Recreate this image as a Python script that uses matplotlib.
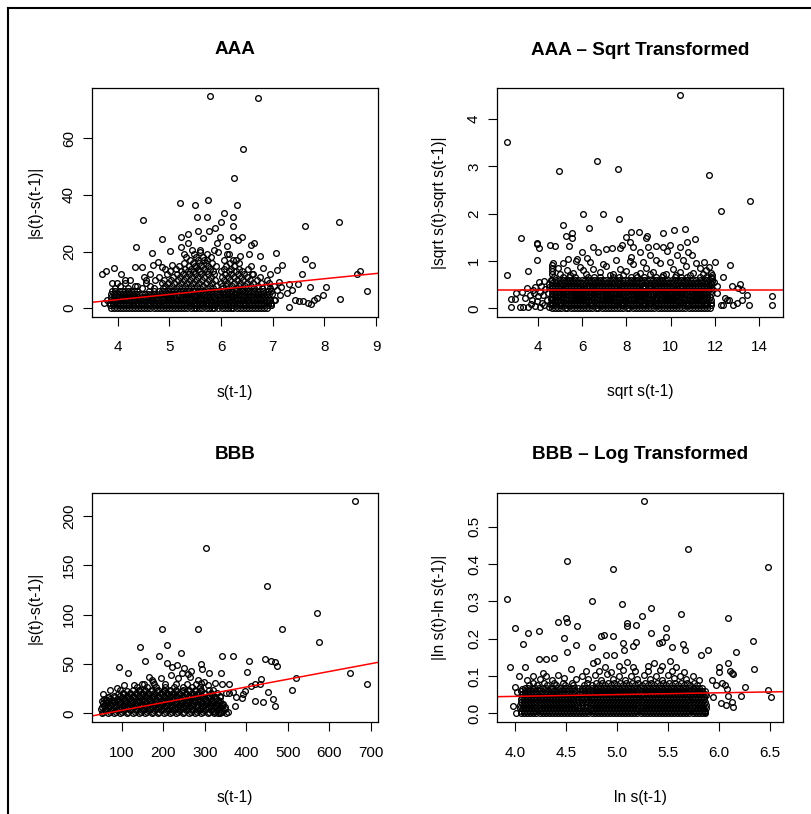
import matplotlib
matplotlib.use("Agg")
import matplotlib.pyplot as plt
from matplotlib.lines import Line2D

plt.rcParams['font.family'] = ['Liberation Sans', 'DejaVu Sans']

# ---------------- DATA ----------------
titles = ["AAA", "AAA \u2013 Sqrt Transformed", "BBB", "BBB \u2013 Log Transformed"]
xlabels = ["s(t-1)", "sqrt s(t-1)", "s(t-1)", "ln s(t-1)"]
ylabels = ["|s(t)-s(t-1)|", "|sqrt s(t)-sqrt s(t-1)|", "|s(t)-s(t-1)|", "|ln s(t)-ln s(t-1)|"]

# regression lines (intercept, slope)
aaa_fit = (-4.38, 1.85)
sqrt_fit = (0.39, 0.0)
bbb_fit = (-4.88, 0.0788)
log_fit = (0.0263, 0.00477)

# ---- AAA: dense core (rows of integer |changes|) ----
aaa_levels = [0, 1, 2, 3, 4, 5, 6, 7, 8, 9, 10, 11, 12, 13, 14, 15, 16, 17, 18, 19, 20]
aaa_rows = [
    [3.87, 3.99, 4.11, 4.22, 4.34, 4.46, 4.57, 4.70, 4.82, 4.93, 5.05, 5.17, 5.29, 5.41, 5.52, 5.64, 5.76, 5.87, 6.01, 6.13, 6.24, 6.36, 6.48, 6.59, 6.71, 6.83],
    [3.92, 4.04, 4.16, 4.28, 4.40, 4.51, 4.63, 4.76, 4.88, 4.99, 5.11, 5.23, 5.35, 5.47, 5.58, 5.70, 5.82, 5.96, 6.07, 6.19, 6.30, 6.42, 6.54, 6.65, 6.77, 6.90],
    [3.86, 3.98, 4.10, 4.23, 4.35, 4.45, 4.58, 4.69, 4.81, 4.94, 5.06, 5.16, 5.28, 5.40, 5.53, 5.65, 5.75, 5.88, 6.00, 6.12, 6.25, 6.37, 6.47, 6.60, 6.72, 6.84, 6.96],
    [3.93, 4.05, 4.17, 4.27, 4.39, 4.52, 4.64, 4.75, 4.87, 5.00, 5.12, 5.22, 5.34, 5.46, 5.59, 5.71, 5.81, 5.95, 6.06, 6.18, 6.31, 6.43, 6.53, 6.66, 6.78, 6.89, 7.02],
    [3.88, 4.00, 4.12, 4.24, 4.33, 4.47, 4.59, 4.71, 4.83, 4.95, 5.04, 5.18, 5.30, 5.42, 5.51, 5.63, 5.77, 5.89, 6.02, 6.14, 6.23, 6.35, 6.49, 6.61, 6.73, 6.85],
    [3.94, 4.06, 4.18, 4.29, 4.41, 4.53, 4.65, 4.77, 4.89, 5.01, 5.10, 5.24, 5.36, 5.48, 5.57, 5.69, 5.83, 5.97, 6.08, 6.20, 6.29, 6.41, 6.55, 6.67, 6.79, 6.92],
    [3.89, 4.02, 4.14, 4.26, 4.38, 4.60, 4.80, 4.92, 5.03, 5.15, 5.27, 5.39, 5.50, 5.62, 5.74, 5.86, 5.99, 6.11, 6.22, 6.34, 6.46, 6.58, 6.70, 6.82, 6.97],
    [3.95, 4.20, 4.48, 4.70, 4.88, 5.00, 5.12, 5.24, 5.36, 5.48, 5.60, 5.72, 5.84, 6.04, 6.16, 6.28, 6.40, 6.52, 6.64, 6.80, 6.95],
    [4.05, 4.33, 4.62, 4.92, 5.06, 5.18, 5.30, 5.42, 5.54, 5.66, 5.78, 5.90, 6.02, 6.10, 6.22, 6.34, 6.46, 6.58, 6.72, 6.88],
    [3.90, 4.15, 4.85, 4.98, 5.10, 5.22, 5.34, 5.46, 5.58, 5.70, 5.82, 6.00, 6.12, 6.25, 6.37, 6.50, 6.62, 6.78, 6.93],
    [4.25, 4.55, 4.90, 5.04, 5.16, 5.28, 5.40, 5.52, 5.64, 5.76, 5.88, 6.06, 6.18, 6.30, 6.42, 6.56, 6.70],
    [4.80, 5.08, 5.20, 5.32, 5.44, 5.56, 5.68, 5.80, 6.02, 6.14, 6.26, 6.38, 6.50],
    [4.95, 5.14, 5.26, 5.38, 5.50, 5.62, 5.74, 5.86, 6.08, 6.20, 6.32, 6.45, 6.60],
    [5.02, 5.22, 5.36, 5.48, 5.60, 5.72, 5.84, 6.00, 6.16, 6.28, 6.40],
    [4.92, 5.12, 5.30, 5.42, 5.55, 5.67, 5.79, 6.05, 6.20, 6.35, 6.52],
    [5.18, 5.38, 5.50, 5.62, 5.75, 5.90, 6.10, 6.26],
    [5.28, 5.45, 5.58, 5.70, 5.82, 6.18, 6.35],
    [5.40, 5.55, 5.68, 6.05, 6.28],
    [5.33, 5.52, 5.65, 5.80],
    [5.47, 5.72, 6.12, 6.55],
    [5.60, 5.95],
]
aaa_fill_levels = [0, 1, 2, 3, 4, 5, 6]
aaa_fill_rows = [
    [3.93, 4.05, 4.16, 4.28, 4.40, 4.52, 4.63, 4.76, 4.88, 4.99, 5.11, 5.23, 5.35, 5.47, 5.58, 5.70, 5.82, 5.94, 6.07, 6.19, 6.30, 6.42, 6.54, 6.65, 6.77, 6.89],
    [3.86, 3.98, 4.10, 4.22, 4.34, 4.45, 4.57, 4.70, 4.82, 4.93, 5.05, 5.17, 5.29, 5.41, 5.52, 5.64, 5.76, 5.89, 6.01, 6.13, 6.24, 6.36, 6.48, 6.59, 6.71, 6.84, 6.96],
    [3.92, 4.04, 4.16, 4.29, 4.40, 4.51, 4.63, 4.75, 4.88, 5.00, 5.11, 5.22, 5.34, 5.47, 5.59, 5.70, 5.81, 5.94, 6.06, 6.18, 6.31, 6.42, 6.54, 6.66, 6.78, 6.90],
    [3.87, 3.99, 4.11, 4.22, 4.33, 4.46, 4.58, 4.69, 4.81, 4.94, 5.06, 5.17, 5.28, 5.40, 5.53, 5.65, 5.76, 5.88, 6.00, 6.12, 6.25, 6.37, 6.48, 6.60, 6.72, 6.84, 6.95],
    [3.94, 4.06, 4.18, 4.29, 4.40, 4.53, 4.65, 4.77, 4.89, 5.00, 5.11, 5.24, 5.36, 5.47, 5.57, 5.70, 5.83, 5.96, 6.08, 6.19, 6.29, 6.42, 6.55, 6.67, 6.79, 6.91],
    [3.88, 4.00, 4.12, 4.24, 4.35, 4.47, 4.59, 4.71, 4.83, 4.95, 5.05, 5.17, 5.30, 5.42, 5.52, 5.63, 5.76, 5.90, 6.03, 6.14, 6.25, 6.35, 6.48, 6.61, 6.73, 6.86],
    [3.95, 4.08, 4.20, 4.32, 4.70, 4.86, 4.98, 5.09, 5.21, 5.33, 5.45, 5.56, 5.68, 5.80, 5.93, 6.05, 6.17, 6.28, 6.40, 6.52, 6.64, 6.76, 6.90],
]
aaa_out_x = [5.79, 6.71, 6.42, 6.25, 5.74, 5.21, 5.49, 6.31, 6.05, 6.24, 5.53, 5.73, 4.49, 8.28, 6.00,
             6.23, 7.63, 5.89, 5.77, 5.56, 5.37, 6.40, 6.23, 5.98, 5.22, 4.86, 6.32, 5.66, 5.37, 6.63,
             5.92, 4.35, 5.22, 6.11, 6.57, 5.02, 5.43, 5.60, 5.86, 4.67, 7.07, 6.76, 6.36, 5.29, 6.16,
             7.63, 6.24, 5.73, 4.79, 7.75, 7.18, 4.68, 5.52, 5.06, 4.34, 4.47, 3.94, 3.78, 8.69, 6.82,
             7.09, 3.69, 8.63, 7.56, 4.07, 7.72, 8.03, 7.49, 7.32, 7.38, 8.82, 7.14, 7.97, 7.27, 7.43,
             7.50, 7.59, 7.69, 7.79, 7.85, 7.32, 8.30, 7.73, 6.62, 6.75, 6.88, 6.95, 6.58, 7.02, 7.08,
             7.12, 7.16, 6.98, 7.04, 6.96, 4.55, 4.72, 4.38, 4.15, 3.98, 4.62, 4.85, 4.52, 3.80, 3.74]
aaa_out_y = [75.1, 74.2, 56.4, 46.1, 38.1, 37.3, 36.4, 36.4, 33.5, 32.1, 32.1, 32.1, 31.2, 30.4, 30.4,
             29.2, 29.2, 28.2, 27.4, 27.4, 26.2, 25.3, 25.3, 25.3, 25.3, 24.5, 24.1, 24.7, 23.2, 23.2,
             23.2, 21.5, 21.5, 22.0, 22.4, 20.1, 20.4, 20.4, 20.6, 19.4, 19.4, 18.5, 18.5, 19.2, 19.2,
             17.3, 17.1, 17.1, 16.5, 15.3, 15.3, 15.3, 14.7, 15.3, 14.4, 14.4, 14.1, 13.3, 13.3, 14.1,
             13.5, 12.2, 12.2, 12.2, 12.2, 7.6, 7.5, 8.4, 8.6, 6.5, 6.2, 4.6, 4.5, 5.3, 2.9,
             2.6, 2.4, 2.0, 2.9, 3.5, 0.4, 3.3, 1.4, 12.0, 11.0, 10.0, 12.0, 15.0, 8.0, 6.5,
             9.2, 7.5, 5.0, 3.0, 1.0, 9.0, 10.0, 8.0, 10.0, 9.0, 12.0, 14.5, 11.0, 3.0, 2.0]

# ---- AAA sqrt ----
sqrt_levels = [0.00, 0.06, 0.12, 0.18, 0.24, 0.30, 0.36, 0.42, 0.48, 0.54, 0.60, 0.66]
sqrt_rows = [
    [4.65, 4.93, 5.21, 5.49, 5.77, 6.05, 6.33, 6.61, 6.89, 7.17, 7.45, 7.73, 8.01, 8.29, 8.57, 8.85, 9.13, 9.41, 9.69, 9.97, 10.25, 10.53, 10.81, 11.09, 11.37, 11.65],
    [4.79, 5.07, 5.35, 5.63, 5.91, 6.19, 6.47, 6.75, 7.03, 7.31, 7.59, 7.87, 8.15, 8.43, 8.71, 8.99, 9.27, 9.55, 9.83, 10.11, 10.39, 10.67, 10.95, 11.23, 11.51, 11.80],
    [4.66, 4.95, 5.22, 5.50, 5.78, 6.04, 6.34, 6.62, 6.90, 7.16, 7.46, 7.74, 8.02, 8.28, 8.58, 8.86, 9.12, 9.42, 9.70, 9.96, 10.26, 10.54, 10.80, 11.10, 11.38, 11.66],
    [4.78, 5.06, 5.36, 5.62, 5.92, 6.20, 6.46, 6.76, 7.04, 7.30, 7.60, 7.88, 8.14, 8.44, 8.70, 9.00, 9.28, 9.54, 9.84, 10.12, 10.38, 10.68, 10.96, 11.22, 11.52, 11.82],
    [4.64, 4.92, 5.20, 5.48, 5.76, 6.06, 6.32, 6.60, 6.88, 7.18, 7.44, 7.72, 8.00, 8.30, 8.56, 8.84, 9.14, 9.40, 9.68, 9.98, 10.24, 10.52, 10.82, 11.08, 11.36, 11.64],
    [4.80, 5.08, 5.34, 5.64, 5.90, 6.18, 6.48, 6.74, 7.02, 7.32, 7.58, 7.86, 8.16, 8.42, 8.72, 8.98, 9.26, 9.56, 9.82, 10.10, 10.40, 10.66, 10.94, 11.24, 11.50, 11.81],
    [4.65, 4.94, 5.21, 5.49, 5.79, 6.05, 6.33, 6.63, 6.89, 7.17, 7.47, 7.73, 8.01, 8.31, 8.57, 8.85, 9.15, 9.41, 9.69, 9.99, 10.25, 10.53, 10.83, 11.09, 11.37, 11.67],
    [4.79, 5.07, 5.37, 5.63, 5.91, 6.21, 6.47, 6.75, 7.05, 7.31, 7.59, 7.89, 8.15, 8.43, 8.73, 8.99, 9.27, 9.57, 9.83, 10.11, 10.41, 10.67, 10.95, 11.25, 11.51, 11.83],
    [4.66, 4.93, 5.23, 5.50, 5.77, 6.07, 6.34, 6.61, 6.91, 7.18, 7.45, 7.75, 8.02, 8.29, 8.59, 8.86, 9.13, 9.43, 9.70, 9.97, 10.27, 10.54, 10.81, 11.11, 11.38, 11.65],
    [4.80, 5.09, 5.35, 5.65, 5.92, 6.19, 6.49, 6.76, 7.03, 7.33, 7.60, 7.87, 8.17, 8.44, 8.71, 9.01, 9.28, 9.55, 9.85, 10.12, 10.39, 10.69, 10.96, 11.23, 11.53, 11.80],
    [4.64, 5.00, 5.28, 5.56, 5.84, 6.12, 6.40, 6.68, 6.96, 7.24, 7.52, 7.80, 8.08, 8.36, 8.64, 8.92, 9.20, 9.48, 9.76, 10.04, 10.32, 10.60, 10.88, 11.16, 11.44, 11.72],
    [4.72, 5.14, 5.42, 5.70, 6.26, 6.54, 6.82, 7.38, 7.66, 8.22, 8.50, 8.78, 9.34, 9.62, 10.18, 10.46, 10.74, 11.30, 11.58, 11.84],
]
sqrt_fill_levels = [0.00, 0.06, 0.12, 0.18, 0.24, 0.30, 0.36, 0.42, 0.48, 0.54, 0.60]
sqrt_fill_rows = [
    [4.78, 5.06, 5.34, 5.62, 5.90, 6.18, 6.46, 6.74, 7.02, 7.30, 7.58, 7.86, 8.14, 8.42, 8.70, 8.98, 9.26, 9.54, 9.82, 10.10, 10.38, 10.66, 10.94, 11.22, 11.50, 11.78],
    [4.66, 4.94, 5.22, 5.50, 5.78, 6.06, 6.34, 6.62, 6.90, 7.18, 7.46, 7.74, 8.02, 8.30, 8.58, 8.86, 9.14, 9.42, 9.70, 9.98, 10.26, 10.54, 10.82, 11.10, 11.38, 11.66],
    [4.81, 5.09, 5.37, 5.65, 5.93, 6.19, 6.49, 6.77, 7.05, 7.31, 7.61, 7.89, 8.17, 8.43, 8.73, 9.01, 9.27, 9.57, 9.85, 10.11, 10.41, 10.69, 10.95, 11.25, 11.53, 11.80],
    [4.64, 4.92, 5.22, 5.48, 5.78, 6.06, 6.32, 6.62, 6.90, 7.16, 7.46, 7.74, 8.00, 8.30, 8.56, 8.86, 9.14, 9.40, 9.70, 9.98, 10.24, 10.54, 10.82, 11.08, 11.38, 11.67],
    [4.78, 5.06, 5.34, 5.62, 5.90, 6.20, 6.46, 6.74, 7.02, 7.32, 7.58, 7.86, 8.14, 8.44, 8.70, 8.98, 9.28, 9.54, 9.82, 10.12, 10.38, 10.66, 10.96, 11.22, 11.50, 11.79],
    [4.66, 4.94, 5.20, 5.50, 5.76, 6.04, 6.34, 6.60, 6.88, 7.18, 7.44, 7.72, 8.02, 8.28, 8.58, 8.84, 9.12, 9.42, 9.68, 9.96, 10.26, 10.52, 10.80, 11.10, 11.36, 11.66],
    [4.79, 5.08, 5.35, 5.63, 5.93, 6.19, 6.47, 6.77, 7.03, 7.31, 7.61, 7.87, 8.15, 8.45, 8.71, 8.99, 9.29, 9.55, 9.83, 10.13, 10.39, 10.67, 10.97, 11.23, 11.51, 11.80],
    [4.65, 4.93, 5.23, 5.49, 5.77, 6.07, 6.33, 6.61, 6.91, 7.17, 7.45, 7.75, 8.01, 8.29, 8.59, 8.85, 9.13, 9.43, 9.69, 9.97, 10.27, 10.53, 10.81, 11.11, 11.37, 11.66],
    [4.80, 5.07, 5.37, 5.64, 5.91, 6.21, 6.48, 6.75, 7.05, 7.32, 7.59, 7.89, 8.16, 8.43, 8.73, 9.00, 9.27, 9.57, 9.84, 10.11, 10.41, 10.68, 10.95, 11.25, 11.52, 11.79],
    [4.66, 4.95, 5.21, 5.51, 5.78, 6.05, 6.35, 6.62, 6.89, 7.19, 7.46, 7.73, 8.03, 8.30, 8.57, 8.87, 9.14, 9.41, 9.71, 9.98, 10.25, 10.55, 10.82, 11.09, 11.39, 11.66],
    [4.82, 5.14, 5.42, 5.70, 5.98, 6.26, 6.54, 6.82, 7.10, 7.38, 7.66, 7.94, 8.22, 8.50, 8.78, 9.06, 9.34, 9.62, 9.90, 10.18, 10.46, 10.74, 11.02, 11.30, 11.58],
]
sqrt_out_x = [2.60, 10.40, 6.69, 7.61, 4.98, 11.74, 13.58, 12.27, 6.03, 6.93, 7.65, 5.16, 6.30, 3.26, 3.95,
              3.98, 4.07, 5.53, 5.28, 5.53, 5.43, 4.56, 4.78, 8.23, 8.59, 7.97, 8.92, 8.89, 9.67, 10.17,
              10.65, 11.08, 10.72, 8.17, 7.79, 8.32, 8.62, 8.99, 9.34, 9.97, 10.42, 10.80, 10.95, 10.30, 9.82,
              9.64, 9.07, 8.21, 7.71, 7.37, 7.08, 6.72, 6.51, 5.98, 6.21, 5.79, 5.38, 3.95, 3.58, 2.60,
              12.00, 12.68, 12.38, 11.50, 11.74, 12.45, 12.56, 12.26, 12.35, 12.65, 12.83, 12.75, 13.13, 13.05, 13.20,
              13.43, 13.20, 12.98, 13.55, 14.56, 14.56, 12.11, 12.08, 11.95, 2.78, 2.78, 2.98, 3.20, 3.35, 3.02,
              3.28, 3.43, 3.65, 3.80, 3.50, 3.73,
              3.90, 4.10, 4.30, 4.50, 3.95, 4.20, 4.40, 4.00, 4.25, 4.45, 4.10, 4.35, 3.90, 4.15, 4.50,
              4.05, 4.30, 4.50, 4.60, 3.85, 4.60, 4.55, 3.70, 3.55,
              4.65, 4.65, 4.66, 4.64, 4.68, 11.85, 11.84, 11.86, 11.85, 11.83,
              5.00, 5.30, 5.60, 5.90, 6.20, 6.50, 6.80, 7.10, 7.40, 7.70, 8.00, 8.30, 8.60, 8.90, 9.20,
              9.50, 9.80, 10.10, 10.40, 10.70, 11.00, 11.30, 11.60, 5.15, 5.75, 6.35, 6.95, 7.55, 8.15, 8.75,
              9.35, 9.95, 10.55, 11.15, 5.45, 7.25, 8.45, 9.65, 10.85, 4.90, 6.05, 7.85, 9.05, 10.25, 11.45]
sqrt_out_y = [3.52, 4.50, 3.12, 2.94, 2.90, 2.82, 2.26, 2.06, 1.99, 1.99, 1.88, 1.75, 1.69, 1.49, 1.39,
              1.35, 1.28, 1.59, 1.53, 1.48, 1.32, 1.34, 1.32, 1.62, 1.62, 1.50, 1.53, 1.48, 1.60, 1.65,
              1.67, 1.47, 1.41, 1.41, 1.34, 1.30, 1.20, 1.30, 1.32, 1.34, 1.30, 1.18, 1.13, 1.13, 1.22,
              1.29, 1.13, 1.09, 1.27, 1.27, 1.25, 1.20, 1.29, 1.18, 1.06, 1.04, 1.04, 1.02, 0.78, 0.70,
              0.97, 0.92, 0.66, 0.97, 0.88, 0.21, 0.18, 0.06, 0.06, 0.18, 0.06, 0.47, 0.51, 0.42, 0.39,
              0.28, 0.18, 0.11, 0.06, 0.27, 0.06, 0.32, 0.47, 0.56, 0.02, 0.20, 0.19, 0.02, 0.02, 0.32,
              0.34, 0.21, 0.28, 0.39, 0.42, 0.18,
              0.05, 0.02, 0.06, 0.03, 0.15, 0.12, 0.18, 0.25, 0.28, 0.33, 0.35, 0.40, 0.44, 0.48, 0.45,
              0.55, 0.58, 0.52, 0.60, 0.32, 0.20, 0.10, 0.08, 0.02,
              0.72, 0.78, 0.85, 0.91, 0.96, 0.70, 0.75, 0.64, 0.58, 0.52,
              0.72, 0.80, 0.75, 0.88, 0.72, 0.82, 0.76, 0.90, 0.73, 0.84, 0.78, 0.93, 0.74, 0.86, 0.77,
              0.95, 0.72, 0.83, 0.76, 0.90, 0.74, 0.85, 0.80, 0.95, 1.00, 0.98, 0.94, 1.02, 0.99, 0.97,
              1.03, 0.98, 1.01, 0.96, 0.70, 0.70, 0.71, 0.71, 0.70, 0.86, 0.80, 0.70, 0.72, 0.70, 0.72]

# ---- BBB ----
bbb_levels = [0, 1.5, 3, 4.5, 6, 7.5, 9, 10.5, 12, 13.5, 15, 16.5, 18, 19.5, 21, 22.5, 24, 27, 30]
bbb_rows = [
    [52, 67, 82, 97, 112, 127, 142, 157, 172, 187, 202, 217, 232, 247, 262, 277, 292, 307, 322, 337, 352],
    [55, 71, 86, 101, 116, 131, 146, 161, 176, 191, 206, 221, 236, 251, 266, 281, 296, 311, 326, 341],
    [59, 74, 89, 104, 119, 134, 149, 164, 179, 194, 209, 224, 239, 254, 269, 284, 299, 314, 329, 344],
    [51, 63, 78, 93, 108, 123, 138, 153, 168, 183, 198, 213, 228, 243, 258, 273, 288, 303, 318, 333, 348],
    [53, 68, 83, 98, 113, 128, 143, 158, 173, 188, 203, 218, 233, 248, 263, 278, 293, 308, 323, 338, 350],
    [57, 72, 87, 102, 117, 132, 147, 162, 177, 192, 207, 222, 237, 252, 267, 282, 297, 312, 327, 342],
    [60, 75, 90, 105, 120, 135, 150, 165, 180, 195, 210, 225, 240, 255, 270, 285, 300, 315, 330, 345],
    [54, 65, 80, 95, 110, 125, 140, 155, 170, 185, 200, 215, 230, 245, 260, 275, 290, 305, 320, 335],
    [52, 66, 81, 96, 111, 126, 141, 156, 171, 186, 201, 216, 231, 246, 261, 276, 291, 306, 321, 336],
    [62, 77, 92, 107, 122, 137, 152, 167, 182, 197, 212, 227, 242, 257, 272, 287, 302, 317, 332],
    [58, 73, 88, 103, 118, 133, 148, 163, 178, 193, 208, 223, 238, 253, 268, 283, 298, 313, 328],
    [70, 85, 100, 115, 130, 145, 160, 175, 190, 205, 220, 235, 250, 265, 280, 295, 310, 325],
    [82, 97, 112, 127, 142, 157, 172, 187, 202, 217, 232, 247, 262, 277, 292, 307, 322, 337],
    [90, 106, 121, 136, 151, 166, 181, 196, 211, 226, 241, 256, 271, 286, 301, 318],
    [104, 119, 134, 149, 164, 179, 194, 209, 224, 239, 254, 269, 284, 299, 314, 329],
    [112, 141, 156, 171, 186, 201, 216, 231, 246, 261, 276, 291],
    [96, 127, 142, 157, 172, 187, 202, 217, 232, 247, 262, 277, 292, 310],
    [138, 160, 182, 204, 226, 248, 270, 288],
    [150, 178, 205, 232, 258, 280],
]
bbb_out_x = [661.4, 303.2, 449.4, 570.7, 576.3, 196.4, 283.9, 487.1, 144.2, 210.0, 243.0, 190.8, 342.6, 367.5, 156.2,
             406.0, 446.2, 459.0, 470.3, 474.3, 92.8, 290.4, 292.8, 210.0, 232.5, 250.2, 220.5, 115.3, 309.6, 338.6,
             402.8, 650.2, 690.4, 521.0, 510.4, 433.3, 421.3, 410.8, 398.0, 392.4, 390.0, 422.1, 440.6, 463.9, 470.3,
             452.6, 374.7, 369.1, 359.4, 342.6, 350.6, 357.0, 337.0, 320.9,
             260.5, 244.5, 435.6, 359.3, 373.0, 331.2, 340.9, 336.8, 325.6, 319.2, 307.1, 299.1, 291.1, 283.0, 265.4,
             236.4, 218.8, 194.7, 172.2, 152.9, 130.4, 104.7, 88.7, 72.6, 54.1, 66.2, 266.3, 166.7, 176.3]
bbb_out_y = [215.5, 167.9, 129.1, 101.7, 72.3, 85.8, 85.8, 85.8, 67.6, 68.9, 61.5, 57.8, 57.8, 57.8, 53.0,
             53.0, 55.4, 53.0, 52.0, 48.0, 47.0, 49.7, 45.3, 51.4, 49.3, 45.6, 46.6, 41.2, 40.5, 40.5,
             42.2, 40.5, 29.7, 35.8, 23.6, 29.7, 29.7, 27.7, 22.3, 19.6, 15.2, 12.8, 11.5, 14.2, 7.8,
             21.3, 16.2, 22.0, 29.7, 29.7, 20.3, 1.0, 1.7, 2.7,
             39.9, 40.5, 34.8, 20.3, 7.8, 0.7, 9.5, 16.2, 30.4, 23.7, 28.7, 32.1, 30.4, 33.8, 37.2,
             35.5, 38.9, 35.5, 33.8, 29.7, 28.7, 28.7, 25.3, 23.7, 19.6, 16.9, 43.2, 37.2, 32.1]

# ---- BBB log ----
log_levels = [0.000, 0.0075, 0.015, 0.0225, 0.030, 0.0375, 0.045, 0.0525, 0.060, 0.0675, 0.075, 0.0825]
log_rows = [
    [4.06, 4.12, 4.18, 4.24, 4.30, 4.36, 4.42, 4.48, 4.54, 4.60, 4.66, 4.72, 4.78, 4.84, 4.90, 4.96, 5.02, 5.08, 5.14, 5.20, 5.26, 5.32, 5.38, 5.44, 5.50, 5.56, 5.62, 5.68, 5.74, 5.80, 5.86],
    [4.09, 4.15, 4.21, 4.27, 4.33, 4.39, 4.45, 4.51, 4.57, 4.63, 4.69, 4.75, 4.81, 4.87, 4.93, 4.99, 5.05, 5.11, 5.17, 5.23, 5.29, 5.35, 5.41, 5.47, 5.53, 5.59, 5.65, 5.71, 5.77, 5.83],
    [4.05, 4.11, 4.17, 4.23, 4.29, 4.35, 4.41, 4.47, 4.53, 4.59, 4.67, 4.73, 4.79, 4.85, 4.91, 4.97, 5.03, 5.09, 5.15, 5.21, 5.27, 5.33, 5.39, 5.45, 5.51, 5.57, 5.63, 5.69, 5.75, 5.81, 5.87],
    [4.08, 4.14, 4.20, 4.26, 4.32, 4.38, 4.44, 4.50, 4.56, 4.62, 4.70, 4.76, 4.82, 4.88, 4.94, 5.00, 5.06, 5.12, 5.18, 5.24, 5.30, 5.36, 5.42, 5.48, 5.54, 5.60, 5.66, 5.72, 5.78, 5.84],
    [4.06, 4.12, 4.18, 4.24, 4.30, 4.36, 4.42, 4.48, 4.54, 4.60, 4.66, 4.72, 4.78, 4.84, 4.90, 4.96, 5.02, 5.08, 5.14, 5.20, 5.26, 5.32, 5.38, 5.44, 5.50, 5.56, 5.62, 5.68, 5.74, 5.80, 5.86],
    [4.09, 4.15, 4.21, 4.27, 4.33, 4.39, 4.45, 4.51, 4.57, 4.65, 4.71, 4.77, 4.83, 4.89, 4.95, 5.01, 5.07, 5.13, 5.19, 5.25, 5.31, 5.37, 5.43, 5.49, 5.55, 5.61, 5.67, 5.73, 5.79, 5.85],
    [4.07, 4.13, 4.19, 4.25, 4.31, 4.37, 4.43, 4.49, 4.55, 4.61, 4.68, 4.74, 4.80, 4.86, 4.92, 4.98, 5.04, 5.10, 5.16, 5.22, 5.28, 5.34, 5.40, 5.46, 5.52, 5.58, 5.64, 5.70, 5.76, 5.82],
    [4.10, 4.16, 4.22, 4.28, 4.34, 4.40, 4.46, 4.52, 4.58, 4.66, 4.72, 4.78, 4.84, 4.90, 4.96, 5.02, 5.08, 5.14, 5.20, 5.26, 5.32, 5.38, 5.44, 5.50, 5.56, 5.62, 5.68, 5.74, 5.80, 5.86],
    [4.06, 4.13, 4.20, 4.26, 4.33, 4.40, 4.47, 4.54, 4.61, 4.69, 4.75, 4.81, 4.87, 4.93, 4.99, 5.05, 5.11, 5.17, 5.23, 5.29, 5.35, 5.41, 5.47, 5.53, 5.59, 5.65, 5.71, 5.77, 5.83],
    [4.10, 4.17, 4.23, 4.30, 4.37, 4.44, 4.51, 4.58, 4.66, 4.72, 4.78, 4.84, 4.90, 4.96, 5.02, 5.08, 5.14, 5.20, 5.26, 5.32, 5.38, 5.44, 5.50, 5.56, 5.62, 5.68, 5.74, 5.80],
    [4.14, 4.22, 4.31, 4.40, 4.49, 4.57, 4.68, 4.75, 4.82, 4.88, 4.94, 5.00, 5.06, 5.12, 5.18, 5.24, 5.30, 5.36, 5.42, 5.48, 5.54, 5.60, 5.66, 5.72, 5.78],
    [4.18, 4.28, 4.38, 4.47, 4.56, 4.71, 4.79, 4.85, 4.91, 4.97, 5.03, 5.09, 5.15, 5.21, 5.27, 5.33, 5.39, 5.45, 5.51, 5.57, 5.63, 5.69, 5.75],
]
log_fill_levels = [0.000, 0.0075, 0.015, 0.0225, 0.030, 0.0375, 0.045, 0.0525, 0.060, 0.0675]
log_fill_rows = [
    [4.09, 4.15, 4.21, 4.27, 4.33, 4.39, 4.45, 4.51, 4.57, 4.63, 4.69, 4.75, 4.81, 4.87, 4.93, 4.99, 5.05, 5.11, 5.17, 5.23, 5.29, 5.35, 5.41, 5.47, 5.53, 5.59, 5.65, 5.71, 5.77, 5.83],
    [4.06, 4.12, 4.18, 4.24, 4.30, 4.36, 4.42, 4.48, 4.54, 4.60, 4.66, 4.72, 4.78, 4.84, 4.90, 4.96, 5.02, 5.08, 5.14, 5.20, 5.26, 5.32, 5.38, 5.44, 5.50, 5.56, 5.62, 5.68, 5.74, 5.80, 5.86],
    [4.08, 4.14, 4.20, 4.26, 4.32, 4.38, 4.44, 4.50, 4.56, 4.63, 4.70, 4.76, 4.82, 4.88, 4.94, 5.00, 5.06, 5.12, 5.18, 5.24, 5.30, 5.36, 5.42, 5.48, 5.54, 5.60, 5.66, 5.72, 5.78, 5.84],
    [4.05, 4.11, 4.17, 4.23, 4.29, 4.35, 4.41, 4.47, 4.53, 4.59, 4.66, 4.73, 4.79, 4.85, 4.91, 4.97, 5.03, 5.09, 5.15, 5.21, 5.27, 5.33, 5.39, 5.45, 5.51, 5.57, 5.63, 5.69, 5.75, 5.81, 5.87],
    [4.09, 4.15, 4.21, 4.27, 4.33, 4.39, 4.45, 4.51, 4.57, 4.63, 4.69, 4.75, 4.81, 4.87, 4.93, 4.99, 5.05, 5.11, 5.17, 5.23, 5.29, 5.35, 5.41, 5.47, 5.53, 5.59, 5.65, 5.71, 5.77, 5.83],
    [4.06, 4.12, 4.18, 4.24, 4.30, 4.36, 4.42, 4.48, 4.54, 4.62, 4.68, 4.74, 4.80, 4.86, 4.92, 4.98, 5.04, 5.10, 5.16, 5.22, 5.28, 5.34, 5.40, 5.46, 5.52, 5.58, 5.64, 5.70, 5.76, 5.82],
    [4.10, 4.16, 4.22, 4.28, 4.34, 4.40, 4.46, 4.52, 4.58, 4.65, 4.71, 4.77, 4.83, 4.89, 4.95, 5.01, 5.07, 5.13, 5.19, 5.25, 5.31, 5.37, 5.43, 5.49, 5.55, 5.61, 5.67, 5.73, 5.79, 5.85],
    [4.07, 4.13, 4.19, 4.25, 4.31, 4.37, 4.43, 4.49, 4.55, 4.63, 4.69, 4.75, 4.81, 4.87, 4.93, 4.99, 5.05, 5.11, 5.17, 5.23, 5.29, 5.35, 5.41, 5.47, 5.53, 5.59, 5.65, 5.71, 5.77, 5.83],
    [4.10, 4.17, 4.23, 4.30, 4.37, 4.44, 4.51, 4.58, 4.65, 4.72, 4.78, 4.84, 4.90, 4.96, 5.02, 5.08, 5.14, 5.20, 5.26, 5.32, 5.38, 5.44, 5.50, 5.56, 5.62, 5.68, 5.74, 5.80, 5.86],
    [4.13, 4.20, 4.27, 4.34, 4.41, 4.48, 4.55, 4.62, 4.69, 4.75, 4.81, 4.87, 4.93, 4.99, 5.05, 5.11, 5.17, 5.23, 5.29, 5.35, 5.41, 5.47, 5.53, 5.59, 5.65, 5.71, 5.77, 5.83],
]
log_out_x = [5.26, 5.70, 4.51, 6.48, 4.96, 3.92, 4.75, 5.05, 5.33, 5.24, 5.63, 4.50, 4.51, 4.42, 6.09,
             5.10, 5.10, 5.19, 4.61, 4.00, 4.23, 4.13, 5.33, 5.48, 4.96, 4.84, 4.87, 4.48, 5.48, 6.33,
             5.06, 5.41, 5.44, 5.19, 4.08, 4.60, 5.65, 5.16, 5.54, 4.75, 5.67, 5.89, 5.07, 6.17, 4.51,
             5.82, 4.89, 4.97, 4.80, 6.09, 6.13, 6.14, 6.11, 6.34, 6.00, 6.00, 3.95, 4.10, 4.23, 4.30,
             4.38, 4.04, 4.00, 4.02, 4.07, 3.98, 4.01, 6.48, 6.51, 6.25, 6.22, 6.08, 6.03, 6.06, 5.94,
             6.02, 6.07, 6.13, 6.14, 6.09, 5.87, 5.86, 5.85,
             4.12, 4.24, 4.36, 4.48, 4.60, 4.72, 4.84, 4.96, 5.08, 5.20, 5.32, 5.44, 5.56, 5.68, 5.80,
             4.18, 4.30, 4.42, 4.66, 4.78, 4.90, 5.02, 5.14, 5.26, 5.38, 5.50, 5.62, 5.74,
             4.70, 4.82, 4.94, 5.06, 5.18, 5.30, 5.42, 5.54, 5.66, 4.88, 5.02, 5.16, 5.30, 5.44, 5.58,
             4.76, 5.10, 5.36, 5.52, 4.55, 4.27, 5.93, 5.97]
log_out_y = [0.570, 0.440, 0.408, 0.392, 0.386, 0.305, 0.302, 0.292, 0.283, 0.262, 0.266, 0.254, 0.244, 0.244, 0.254,
             0.241, 0.235, 0.237, 0.235, 0.228, 0.221, 0.214, 0.214, 0.228, 0.208, 0.208, 0.210, 0.203, 0.205, 0.195,
             0.189, 0.189, 0.192, 0.192, 0.186, 0.182, 0.186, 0.179, 0.177, 0.177, 0.170, 0.170, 0.170, 0.163, 0.163,
             0.156, 0.156, 0.156, 0.140, 0.134, 0.109, 0.106, 0.112, 0.118, 0.123, 0.111, 0.123, 0.123, 0.146, 0.146,
             0.149, 0.101, 0.071, 0.058, 0.066, 0.020, 0.002, 0.063, 0.043, 0.070, 0.046, 0.064, 0.082, 0.076, 0.043,
             0.027, 0.022, 0.031, 0.016, 0.046, 0.049, 0.003, 0.007,
             0.090, 0.092, 0.089, 0.094, 0.091, 0.093, 0.090, 0.092, 0.089, 0.093, 0.091, 0.090, 0.094, 0.092, 0.089,
             0.101, 0.099, 0.103, 0.100, 0.102, 0.104, 0.101, 0.099, 0.103, 0.100, 0.102, 0.101, 0.099,
             0.112, 0.114, 0.111, 0.115, 0.113, 0.112, 0.116, 0.113, 0.111, 0.125, 0.127, 0.124, 0.128, 0.126, 0.123,
             0.136, 0.138, 0.135, 0.139, 0.118, 0.108, 0.090, 0.075]

# ---------------- PLOTTING ----------------
W, H = 811, 814
fig = plt.figure(figsize=(W / 100, H / 100), dpi=100)


def rect(l, r, t, b):
    return [l / W, 1 - b / H, (r - l) / W, (b - t) / H]


def combine(levels, rows, ox, oy):
    xs, ys = [], []
    for lv, r in zip(levels, rows):
        xs.extend(r)
        ys.extend([lv] * len(r))
    return xs + list(ox), ys + list(oy)


panels = [
    dict(box=(91.7, 378.3, 87.7, 317.0),
         data=combine(aaa_levels + aaa_fill_levels, aaa_rows + aaa_fill_rows, aaa_out_x, aaa_out_y),
         xlim=(3.50, 9.04), ylim=(-3.1, 77.9), xt=[4, 5, 6, 7, 8, 9], xtl=["4", "5", "6", "7", "8", "9"],
         yt=[0, 20, 40, 60], ytl=["0", "20", "40", "60"], fit=aaa_fit),
    dict(box=(496.7, 783.3, 88.3, 316.7),
         data=combine(sqrt_levels + sqrt_fill_levels, sqrt_rows + sqrt_fill_rows, sqrt_out_x, sqrt_out_y),
         xlim=(2.15, 15.08), ylim=(-0.178, 4.65), xt=[4, 6, 8, 10, 12, 14], xtl=["4", "6", "8", "10", "12", "14"],
         yt=[0, 1, 2, 3, 4], ytl=["0", "1", "2", "3", "4"], fit=sqrt_fit),
    dict(box=(91.7, 378.3, 492.7, 722.3), data=combine(bbb_levels, bbb_rows, bbb_out_x, bbb_out_y),
         xlim=(27.7, 718.3), ylim=(-9.1, 223.6), xt=[100, 200, 300, 400, 500, 600, 700],
         xtl=["100", "200", "300", "400", "500", "600", "700"],
         yt=[0, 50, 100, 150, 200], ytl=["0", "50", "100", "150", "200"], fit=bbb_fit),
    dict(box=(496.7, 783.3, 492.7, 722.3),
         data=combine(log_levels + log_fill_levels, log_rows + log_fill_rows, log_out_x, log_out_y),
         xlim=(3.82, 6.63), ylim=(-0.0241, 0.591), xt=[4.0, 4.5, 5.0, 5.5, 6.0, 6.5],
         xtl=["4.0", "4.5", "5.0", "5.5", "6.0", "6.5"],
         yt=[0.0, 0.1, 0.2, 0.3, 0.4, 0.5], ytl=["0.0", "0.1", "0.2", "0.3", "0.4", "0.5"], fit=log_fit),
]

for i, p in enumerate(panels):
    l, r, t, b = p["box"]
    ax = fig.add_axes(rect(l, r, t, b))
    xs, ys = p["data"]
    ax.plot(xs, ys, linestyle="none", marker="o", markersize=4.1, markerfacecolor="none",
            markeredgecolor="black", markeredgewidth=0.95)
    a, s = p["fit"]
    ax.axline((0, a), slope=s, color="red", linewidth=1.1)
    ax.set_xlim(*p["xlim"])
    ax.set_ylim(*p["ylim"])
    ax.set_xticks(p["xt"])
    ax.set_xticklabels(p["xtl"])
    ax.set_yticks(p["yt"])
    ax.set_yticklabels(p["ytl"], rotation=90, va="center")
    ax.tick_params(axis="both", direction="out", length=6.8, width=0.8, labelsize=11, color="black")
    ax.tick_params(axis="x", pad=10)
    ax.tick_params(axis="y", pad=4.5)
    for sp in ax.spines.values():
        sp.set_linewidth(0.9)
    cx = (l + r) / 2
    cy = (t + b) / 2
    fig.text(cx / W, 1 - (t - 38) / H, titles[i], ha="center", va="center", fontsize=13.6, fontweight="bold")
    fig.text(cx / W, 1 - (b + 75) / H, xlabels[i], ha="center", va="center", fontsize=11.2)
    fig.text((l - 57) / W, 1 - cy / H, ylabels[i], ha="center", va="center", fontsize=11.2, rotation=90)

# figure border (left and top)
fig.add_artist(Line2D([8 / W, 8 / W], [0, 1 - 8 / H], color="black", linewidth=1.5, transform=fig.transFigure))
fig.add_artist(Line2D([8 / W, 1], [1 - 8 / H, 1 - 8 / H], color="black", linewidth=1.5, transform=fig.transFigure))

fig.savefig("out.png", dpi=100)
